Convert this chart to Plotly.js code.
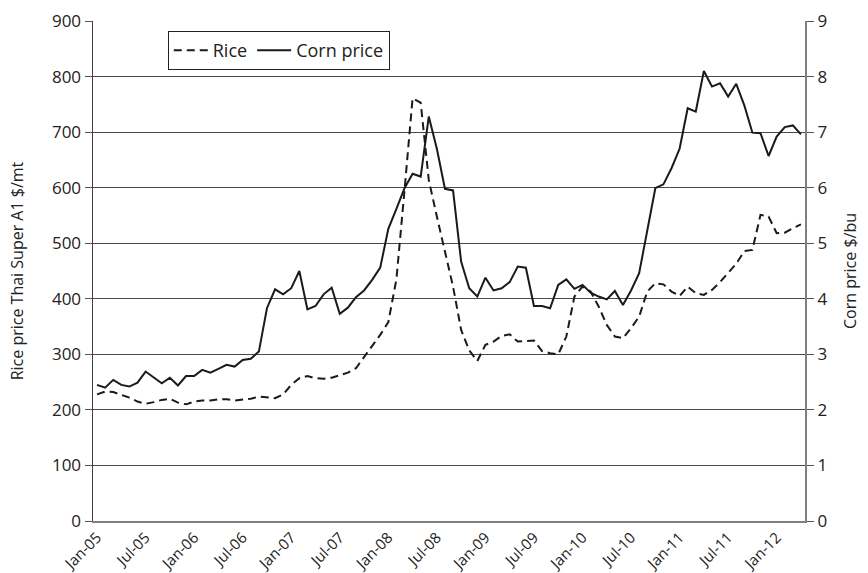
<!DOCTYPE html>
<html>
<head>
<meta charset="utf-8">
<script src="https://cdn.plot.ly/plotly-3.0.1.min.js"></script>
<style>
html,body{margin:0;padding:0;background:#fff;}
#chart{width:868px;height:573px;}
</style>
</head>
<body>
<div id="chart"></div>
<script>
const months = [
 'Jan-05','Feb-05','Mar-05','Apr-05','May-05','Jun-05','Jul-05','Aug-05','Sep-05','Oct-05','Nov-05','Dec-05',
 'Jan-06','Feb-06','Mar-06','Apr-06','May-06','Jun-06','Jul-06','Aug-06','Sep-06','Oct-06','Nov-06','Dec-06',
 'Jan-07','Feb-07','Mar-07','Apr-07','May-07','Jun-07','Jul-07','Aug-07','Sep-07','Oct-07','Nov-07','Dec-07',
 'Jan-08','Feb-08','Mar-08','Apr-08','May-08','Jun-08','Jul-08','Aug-08','Sep-08','Oct-08','Nov-08','Dec-08',
 'Jan-09','Feb-09','Mar-09','Apr-09','May-09','Jun-09','Jul-09','Aug-09','Sep-09','Oct-09','Nov-09','Dec-09',
 'Jan-10','Feb-10','Mar-10','Apr-10','May-10','Jun-10','Jul-10','Aug-10','Sep-10','Oct-10','Nov-10','Dec-10',
 'Jan-11','Feb-11','Mar-11','Apr-11','May-11','Jun-11','Jul-11','Aug-11','Sep-11','Oct-11','Nov-11','Dec-11',
 'Jan-12','Feb-12','Mar-12','Apr-12'
];

const ricePrice = [
 228, 233, 232, 227, 222, 215, 211, 214, 218, 220,
 213, 210, 215, 217, 217, 219, 219, 217, 219, 220,
 224, 223, 221, 228, 245, 257, 261, 257, 256, 258,
 263, 267, 275, 295, 313, 335, 358, 435, 595, 761,
 753, 614, 548, 482, 422, 344, 307, 288, 317, 323,
 333, 336, 323, 324, 325, 306, 302, 300, 332, 404,
 422, 413, 386, 353, 332, 329, 347, 368, 413, 428,
 426, 413, 405, 422, 410, 407, 416, 430, 446, 463,
 486, 488, 551, 548, 518, 519, 527, 534
];

const cornPrice = [
 2.45, 2.40, 2.54, 2.45, 2.42, 2.49, 2.69, 2.58, 2.48, 2.58,
 2.44, 2.61, 2.61, 2.72, 2.67, 2.74, 2.81, 2.78, 2.90, 2.92,
 3.05, 3.83, 4.17, 4.08, 4.19, 4.50, 3.81, 3.87, 4.08, 4.20,
 3.73, 3.84, 4.03, 4.15, 4.34, 4.56, 5.26, 5.62, 5.99, 6.25,
 6.20, 7.28, 6.70, 5.98, 5.95, 4.67, 4.19, 4.04, 4.38, 4.15,
 4.19, 4.30, 4.58, 4.56, 3.87, 3.87, 3.83, 4.25, 4.35, 4.18,
 4.25, 4.11, 4.04, 3.99, 4.14, 3.89, 4.15, 4.46, 5.24, 5.99,
 6.06, 6.35, 6.70, 7.43, 7.37, 8.10, 7.82, 7.88, 7.64, 7.87,
 7.48, 6.99, 6.98, 6.57, 6.92, 7.09, 7.12, 6.96
];

const xTickLabels = ['Jan-05','Jul-05','Jan-06','Jul-06','Jan-07','Jul-07','Jan-08','Jul-08','Jan-09','Jul-09','Jan-10','Jul-10','Jan-11','Jul-11','Jan-12'];
const riceTicks = [0,100,200,300,400,500,600,700,800,900];
const cornTicks = [0,1,2,3,4,5,6,7,8,9];

const FONT = 'Open Sans, Noto Sans, sans-serif';

const traces = [
 {
  x: months, y: ricePrice, name: 'Rice', type: 'scatter', mode: 'lines',
  line: {color: '#1a1a1a', width: 2, dash: '8px,5px'},
  yaxis: 'y'
 },
 {
  x: months, y: cornPrice, name: 'Corn price', type: 'scatter', mode: 'lines',
  line: {color: '#1a1a1a', width: 2},
  yaxis: 'y2'
 }
];

const layout = {
 width: 868, height: 573,
 margin: {l: 93, r: 63, t: 21, b: 52},
 paper_bgcolor: '#ffffff', plot_bgcolor: '#ffffff',
 font: {family: FONT, size: 17, color: '#222'},
 showlegend: true,
 legend: {
  orientation: 'h', x: 0.105, y: 0.98, xanchor: 'left', yanchor: 'top',
  bordercolor: '#222', borderwidth: 1, bgcolor: '#fff',
  font: {family: FONT, size: 18, color: '#222'},
  itemwidth: 34, tracegroupgap: 0
 },
 xaxis: {
  type: 'category', range: [-0.5, months.length - 0.5],
  tickmode: 'array', tickvals: xTickLabels, ticktext: xTickLabels,
  tickangle: -45, ticks: '', showgrid: false, zeroline: false,
  showline: true, linecolor: '#808080', linewidth: 2,
  tickfont: {family: FONT, size: 15, color: '#222'}
 },
 yaxis: {
  range: [0, 900], tickmode: 'array', tickvals: riceTicks,
  ticks: 'outside', ticklen: 7, tickcolor: '#555', tickwidth: 1,
  showgrid: true, gridcolor: '#4a4a4a', gridwidth: 1, zeroline: false,
  showline: true, linecolor: '#404040', linewidth: 1.5,
  tickfont: {family: FONT, size: 17, color: '#222'},
  title: {text: 'Rice price Thai Super A1 $/mt', font: {family: FONT, size: 16, color: '#222'}, standoff: 24}
 },
 yaxis2: {
  range: [0, 9], tickmode: 'array', tickvals: cornTicks,
  overlaying: 'y', side: 'right',
  ticks: 'outside', ticklen: 7, tickcolor: '#555', tickwidth: 1,
  showgrid: false, zeroline: false,
  showline: true, linecolor: '#808080', linewidth: 2,
  tickfont: {family: FONT, size: 17, color: '#222'},
  title: {text: 'Corn price $/bu', font: {family: FONT, size: 16, color: '#222'}, standoff: 18}
 }
};

Plotly.newPlot('chart', traces, layout, {displayModeBar: false, staticPlot: true});
</script>
</body>
</html>
